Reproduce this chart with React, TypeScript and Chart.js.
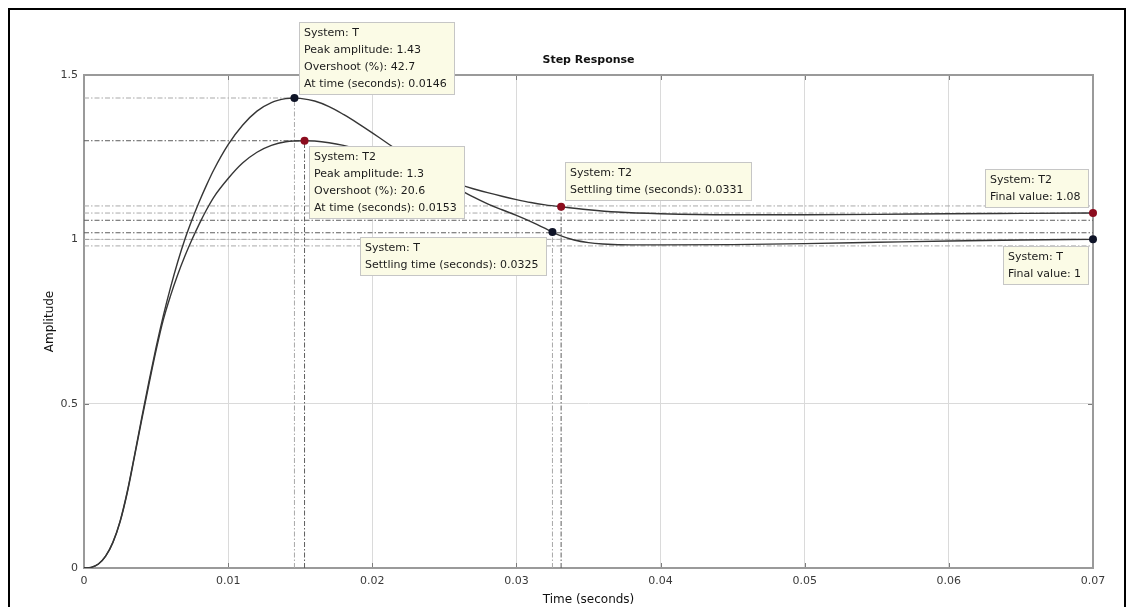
import React, { useEffect, useRef } from 'react';
import { Chart, registerables } from 'chart.js';

Chart.register(...registerables);

// ---- data ----
const timeT = [0, 0.0005, 0.001, 0.0015, 0.002, 0.0025, 0.003, 0.0035, 0.004, 0.0045, 0.005, 0.0055, 0.006, 0.0065, 0.007, 0.0075, 0.008, 0.0085, 0.009, 0.010, 0.011, 0.012, 0.013, 0.014, 0.0146, 0.015, 0.016, 0.017, 0.018, 0.019, 0.020, 0.021, 0.022, 0.023, 0.024, 0.025, 0.026, 0.027, 0.028, 0.029, 0.030, 0.031, 0.032, 0.0325, 0.033, 0.034, 0.035, 0.036, 0.038, 0.040, 0.045, 0.050, 0.055, 0.060, 0.065, 0.070];
const ampT = [0, 0.002, 0.012, 0.036, 0.078, 0.142, 0.232, 0.342, 0.456, 0.566, 0.671, 0.767, 0.853, 0.931, 1.0, 1.06, 1.115, 1.165, 1.211, 1.288, 1.347, 1.39, 1.416, 1.428, 1.43, 1.429, 1.421, 1.404, 1.38, 1.353, 1.324, 1.294, 1.265, 1.236, 1.207, 1.179, 1.153, 1.129, 1.108, 1.09, 1.073, 1.054, 1.033, 1.022, 1.012, 0.998, 0.99, 0.986, 0.983, 0.983, 0.984, 0.987, 0.991, 0.995, 0.998, 1.0];

const timeT2 = [0, 0.0005, 0.001, 0.0015, 0.002, 0.0025, 0.003, 0.0035, 0.004, 0.0045, 0.005, 0.0055, 0.006, 0.0065, 0.007, 0.0075, 0.008, 0.0085, 0.009, 0.010, 0.011, 0.012, 0.013, 0.014, 0.0153, 0.016, 0.017, 0.018, 0.019, 0.020, 0.021, 0.022, 0.023, 0.024, 0.025, 0.026, 0.027, 0.028, 0.029, 0.030, 0.031, 0.032, 0.0331, 0.035, 0.037, 0.040, 0.045, 0.050, 0.055, 0.060, 0.065, 0.070];
const ampT2 = [0, 0.002, 0.012, 0.036, 0.077, 0.14, 0.229, 0.338, 0.45, 0.558, 0.662, 0.755, 0.828, 0.892, 0.949, 1.0, 1.047, 1.09, 1.128, 1.185, 1.232, 1.265, 1.286, 1.297, 1.30, 1.299, 1.294, 1.286, 1.275, 1.261, 1.245, 1.228, 1.212, 1.196, 1.181, 1.167, 1.154, 1.142, 1.131, 1.121, 1.112, 1.105, 1.099, 1.09, 1.083, 1.078, 1.075, 1.075, 1.076, 1.078, 1.079, 1.08];

// characteristic points: peak, settling, final value
const markerTimeT = [0.0146, 0.0325, 0.07];
const markerAmpT = [1.43, 1.022, 1.0];
const markerTimeT2 = [0.0153, 0.0331, 0.07];
const markerAmpT2 = [1.3, 1.099, 1.08];
const overshootT = '42.7';
const overshootT2 = '20.6';
const peakLabelT = '1.43';
const peakLabelT2 = '1.3';
const settleLabelT = '0.0325';
const settleLabelT2 = '0.0331';
const finalLabelT = '1';
const finalLabelT2 = '1.08';

// horizontal dash-dot reference levels (settling bands and final values)
const levelValues = [1.1016, 1.08, 1.058, 1.02, 1.0, 0.98];

const xTickValues = [0, 0.01, 0.02, 0.03, 0.04, 0.05, 0.06, 0.07];
const xTickLabels = ['0', '0.01', '0.02', '0.03', '0.04', '0.05', '0.06', '0.07'];
const yTickValues = [0, 0.5, 1, 1.5];
const yTickLabels = ['0', '0.5', '1', '1.5'];

const titleText = 'Step Response';
const xTitle = 'Time (seconds)';
const yTitle = 'Amplitude';

// ---- styles ----
const FONT = '"DejaVu Sans", "Liberation Sans", Arial, sans-serif';
const LIGHT = '#a9a9a9';
const DARK = '#5e5e5e';
const levelShade = [LIGHT, LIGHT, DARK, DARK, LIGHT, LIGHT];
const DASH = [5, 2, 1.5, 2];
const T_COLOR = '#0f1428';
const T2_COLOR = '#8c0c1e';
const CURVE = '#363636';

const pts = (xs: number[], ys: number[]) => xs.map((x, i) => ({ x, y: ys[i] }));

type Annot = { time: number; amp: number; lines: string[]; place: 'ne' | 'se' | 'sw' | 'nw'; dx: number; dy: number };

const annotations: Annot[] = [
  { time: markerTimeT[0], amp: markerAmpT[0], lines: ['System: T', 'Peak amplitude: ' + peakLabelT, 'Overshoot (%): ' + overshootT, 'At time (seconds): ' + markerTimeT[0]], place: 'ne', dx: 5, dy: 4 },
  { time: markerTimeT2[0], amp: markerAmpT2[0], lines: ['System: T2', 'Peak amplitude: ' + peakLabelT2, 'Overshoot (%): ' + overshootT2, 'At time (seconds): ' + markerTimeT2[0]], place: 'se', dx: 4, dy: 5 },
  { time: markerTimeT[1], amp: markerAmpT[1], lines: ['System: T', 'Settling time (seconds): ' + settleLabelT], place: 'sw', dx: 6, dy: 5 },
  { time: markerTimeT2[1], amp: markerAmpT2[1], lines: ['System: T2', 'Settling time (seconds): ' + settleLabelT2], place: 'ne', dx: 4, dy: 7 },
  { time: markerTimeT2[2], amp: markerAmpT2[2], lines: ['System: T2', 'Final value: ' + finalLabelT2], place: 'nw', dx: 5, dy: 6 },
  { time: markerTimeT[2], amp: markerAmpT[2], lines: ['System: T', 'Final value: ' + finalLabelT], place: 'sw', dx: 5, dy: 7 },
];

const framePlugin = {
  id: 'frame',
  beforeDatasetsDraw(chart: any) {
    const { ctx, chartArea } = chart;
    const { left, right, top, bottom } = chartArea;
    const xs = chart.scales.x;
    const ys = chart.scales.y;
    ctx.save();
    ctx.strokeStyle = '#7c7c7c';
    ctx.lineWidth = 1;
    ctx.beginPath();
    xTickValues.forEach((v) => {
      const px = Math.round(xs.getPixelForValue(v)) + 0.5;
      ctx.moveTo(px, bottom); ctx.lineTo(px, bottom - 5);
      ctx.moveTo(px, top); ctx.lineTo(px, top + 5);
    });
    yTickValues.forEach((v) => {
      const py = Math.round(ys.getPixelForValue(v)) + 0.5;
      ctx.moveTo(left, py); ctx.lineTo(left + 5, py);
      ctx.moveTo(right, py); ctx.lineTo(right - 5, py);
    });
    ctx.stroke();
    ctx.strokeStyle = '#9a9a9a';
    ctx.lineWidth = 2;
    ctx.strokeRect(left, top, right - left, bottom - top);
    ctx.restore();
  },
  afterDatasetsDraw(chart: any) {
    const { ctx } = chart;
    const xs = chart.scales.x;
    const ys = chart.scales.y;
    ctx.save();
    ctx.font = '11px ' + FONT;
    annotations.forEach((a) => {
      const px = xs.getPixelForValue(a.time);
      const py = ys.getPixelForValue(a.amp);
      const w = Math.round(Math.max(...a.lines.map((l) => ctx.measureText(l).width)) + 12);
      const h = a.lines.length * 17 + 4;
      let left = 0;
      let top = 0;
      if (a.place === 'ne') { left = px + a.dx; top = py - a.dy - h; }
      if (a.place === 'se') { left = px + a.dx; top = py + a.dy; }
      if (a.place === 'sw') { left = px - a.dx - w; top = py + a.dy; }
      if (a.place === 'nw') { left = px - a.dx - w; top = py - a.dy - h; }
      left = Math.round(left);
      top = Math.round(top);
      ctx.fillStyle = '#fbfbe6';
      ctx.fillRect(left, top, w, h);
      ctx.strokeStyle = '#c6c6c6';
      ctx.lineWidth = 1;
      ctx.strokeRect(left + 0.5, top + 0.5, w, h);
      ctx.fillStyle = '#1b1b1b';
      ctx.textAlign = 'left';
      ctx.textBaseline = 'middle';
      a.lines.forEach((l, i) => ctx.fillText(l, left + 5, top + 11 + i * 17));
    });
    ctx.restore();
  },
  afterDraw(chart: any) {
    const { ctx, chartArea } = chart;
    ctx.save();
    ctx.font = 'bold 11px ' + FONT;
    ctx.fillStyle = '#111';
    ctx.textAlign = 'center';
    ctx.textBaseline = 'middle';
    ctx.fillText(titleText, (chartArea.left + chartArea.right) / 2, chartArea.top - 15);
    ctx.restore();
  },
};

export default function App() {
  const ref = useRef<HTMLCanvasElement>(null);

  useEffect(() => {
    if (!ref.current) return;
    const guides: any[] = [];
    levelValues.forEach((lv, i) => {
      guides.push({ data: [{ x: 0, y: lv }, { x: 0.07, y: lv }], borderColor: levelShade[i] });
    });
    guides.push({ data: [{ x: 0, y: markerAmpT[0] }, { x: markerTimeT[0], y: markerAmpT[0] }], borderColor: LIGHT });
    guides.push({ data: [{ x: 0, y: markerAmpT2[0] }, { x: markerTimeT2[0], y: markerAmpT2[0] }], borderColor: DARK });
    guides.push({ data: [{ x: markerTimeT[0], y: 0 }, { x: markerTimeT[0], y: markerAmpT[0] }], borderColor: LIGHT });
    guides.push({ data: [{ x: markerTimeT2[0], y: 0 }, { x: markerTimeT2[0], y: markerAmpT2[0] }], borderColor: DARK });
    guides.push({ data: [{ x: markerTimeT[1], y: 0 }, { x: markerTimeT[1], y: markerAmpT[1] }], borderColor: LIGHT });
    guides.push({ data: [{ x: markerTimeT2[1], y: 0 }, { x: markerTimeT2[1], y: markerAmpT2[1] }], borderColor: DARK });
    const guideSets = guides.map((g) => ({
      ...g,
      borderWidth: 1,
      borderDash: DASH,
      pointRadius: 0,
      order: 3,
    }));

    const chart = new Chart(ref.current, {
      type: 'line',
      data: {
        datasets: [
          { label: 'T markers', data: pts(markerTimeT, markerAmpT), showLine: false, pointRadius: 4, pointBackgroundColor: T_COLOR, pointBorderColor: T_COLOR, pointBorderWidth: 0, clip: false, order: 0 } as any,
          { label: 'T2 markers', data: pts(markerTimeT2, markerAmpT2), showLine: false, pointRadius: 4, pointBackgroundColor: T2_COLOR, pointBorderColor: T2_COLOR, pointBorderWidth: 0, clip: false, order: 0 } as any,
          { label: 'T', data: pts(timeT, ampT), borderColor: CURVE, borderWidth: 1.4, pointRadius: 0, cubicInterpolationMode: 'monotone', order: 1 },
          { label: 'T2', data: pts(timeT2, ampT2), borderColor: CURVE, borderWidth: 1.4, pointRadius: 0, cubicInterpolationMode: 'monotone', order: 1 },
          ...guideSets,
        ],
      },
      options: {
        responsive: false,
        maintainAspectRatio: false,
        animation: false,
        events: [],
        layout: { padding: { left: 0, right: 31, top: 65, bottom: 0 } },
        plugins: { legend: { display: false }, tooltip: { enabled: false }, title: { display: false } },
        scales: {
          x: {
            type: 'linear',
            min: 0,
            max: 0.07,
            afterBuildTicks: (s: any) => { s.ticks = xTickValues.map((v) => ({ value: v })); },
            afterFit: (s: any) => { s.height = 39; },
            ticks: {
              callback: (_v: any, i: number) => xTickLabels[i],
              padding: 7,
              maxRotation: 0,
              autoSkip: false,
              color: '#3a3a3a',
              font: { family: FONT, size: 11 },
            },
            grid: { color: '#dadada', lineWidth: 1, drawTicks: false },
            border: { display: false },
            title: { display: true, text: xTitle, color: '#111', font: { family: FONT, size: 12 }, padding: { top: 0, bottom: 0 } },
          },
          y: {
            type: 'linear',
            min: 0,
            max: 1.5,
            afterBuildTicks: (s: any) => { s.ticks = yTickValues.map((v) => ({ value: v })); },
            afterFit: (s: any) => { s.width = 74; },
            ticks: {
              callback: (_v: any, i: number) => yTickLabels[i],
              padding: 6,
              autoSkip: false,
              color: '#3a3a3a',
              font: { family: FONT, size: 11 },
            },
            grid: { color: '#dadada', lineWidth: 1, drawTicks: false },
            border: { display: false },
            title: { display: true, text: yTitle, color: '#111', font: { family: FONT, size: 12 }, padding: { top: 33, bottom: 0 } },
          },
        },
      },
      plugins: [framePlugin],
    } as any);
    return () => chart.destroy();
  }, []);

  return (
    <div
      style={{
        position: 'relative',
        width: 1118,
        height: 599,
        boxSizing: 'border-box',
        borderTop: '2px solid #000',
        borderLeft: '2px solid #000',
        borderRight: '2px solid #000',
        background: '#fff',
        overflow: 'hidden',
      }}
    >
      <canvas ref={ref} width={1114} height={597} style={{ display: 'block', width: 1114, height: 597 }} />
    </div>
  );
}
